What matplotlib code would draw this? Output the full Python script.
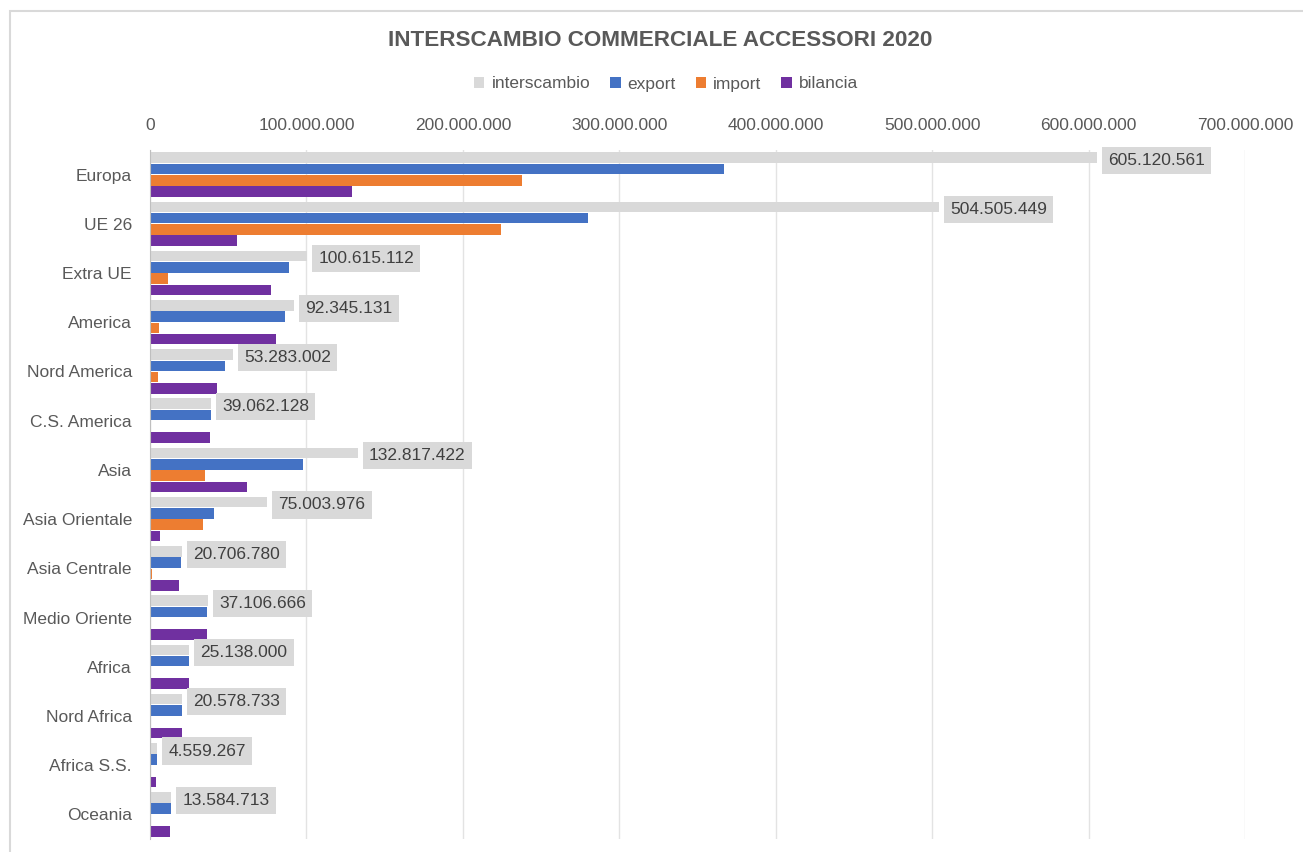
import matplotlib
matplotlib.use('Agg')
import matplotlib.pyplot as plt
from matplotlib.patches import Rectangle
from matplotlib.ticker import FuncFormatter
import numpy as np

plt.rcParams['font.family'] = ['Liberation Sans', 'DejaVu Sans']

categories = ['Europa', 'UE 26', 'Extra UE', 'America', 'Nord America', 'C.S. America',
              'Asia', 'Asia Orientale', 'Asia Centrale', 'Medio Oriente', 'Africa',
              'Nord Africa', 'Africa S.S.', 'Oceania']
interscambio = [605120561, 504505449, 100615112, 92345131, 53283002, 39062128,
                132817422, 75003976, 20706780, 37106666, 25138000,
                20578733, 4559267, 13584713]
export = [367.0e6, 280.0e6, 88.9e6, 86.5e6, 48.1e6, 38.7e6,
          97.5e6, 40.8e6, 19.6e6, 36.7e6, 24.9e6,
          20.4e6, 4.3e6, 13.3e6]
imports = [238.1e6, 224.5e6, 11.7e6, 5.85e6, 5.2e6, 0.36e6,
           35.3e6, 34.2e6, 1.1e6, 0.4e6, 0.24e6,
           0.18e6, 0.26e6, 0.28e6]
bilancia = [128.9e6, 55.5e6, 77.2e6, 80.6e6, 42.9e6, 38.3e6,
            62.2e6, 6.6e6, 18.5e6, 36.3e6, 24.7e6,
            20.2e6, 4.0e6, 13.0e6]

series = [('interscambio', interscambio, '#d9d9d9'),
          ('export', export, '#4472c4'),
          ('import', imports, '#ed7d31'),
          ('bilancia', bilancia, '#7030a0')]

text_col = '#595959'
fs = 12.5


def fmt_it(v, pos=None):
    return f'{int(round(v)):,}'.replace(',', '.')


fig = plt.figure(figsize=(13.03, 8.52), dpi=100)
# chart frame: only left and top edges fall inside the picture
fig.patches.append(Rectangle((10 / 1303, -0.05), 1.2, 1 - 11 / 852 + 0.05,
                             transform=fig.transFigure, fill=False,
                             edgecolor='#d9d9d9', linewidth=1.5))

ax = fig.add_axes([150 / 1303, 13 / 852, 1095 / 1303, 689 / 852])

y = np.arange(len(categories))
step = 0.229
h = 0.215
for k, (name, vals, col) in enumerate(series):
    ax.barh(y + (k - 1.5) * step, vals, height=h, color=col, label=name, zorder=3)

for i, v in enumerate(interscambio):
    ax.annotate(fmt_it(v), xy=(v, y[i] - 1.5 * step), xytext=(8, -2),
                textcoords='offset points', va='center', ha='left',
                fontsize=fs, color='#404040', zorder=5,
                bbox=dict(boxstyle='square,pad=0.35', fc='#d9d9d9', ec='none'))

ax.set_xlim(0, 700e6)
ax.set_ylim(len(categories) - 0.5, -0.5)
ax.set_xticks(np.arange(0, 700e6 + 1, 100e6))
ax.xaxis.set_major_formatter(FuncFormatter(fmt_it))
ax.xaxis.tick_top()
ax.tick_params(axis='x', length=0, pad=12, labelsize=fs, labelcolor=text_col)
ax.set_yticks(y)
ax.set_yticklabels(categories)
ax.tick_params(axis='y', length=0, pad=13, labelsize=fs, labelcolor=text_col)
ax.grid(axis='x', color='#e3e3e3', linewidth=1, zorder=0)
for s in ['top', 'right', 'bottom']:
    ax.spines[s].set_visible(False)
ax.spines['left'].set_color('#bfbfbf')
ax.spines['left'].set_zorder(4)

fig.text(660 / 1303, 1 - 40 / 852, 'INTERSCAMBIO COMMERCIALE ACCESSORI 2020',
         ha='center', va='center', fontsize=16.2, fontweight='bold', color=text_col)

fig.legend(loc='center', bbox_to_anchor=(666 / 1303, 1 - 84 / 852), ncol=4,
           frameon=False, fontsize=fs, labelcolor=text_col, handlelength=0.6,
           handleheight=0.6, handletextpad=0.4, columnspacing=1.15)

fig.savefig('out.png', dpi=100)
